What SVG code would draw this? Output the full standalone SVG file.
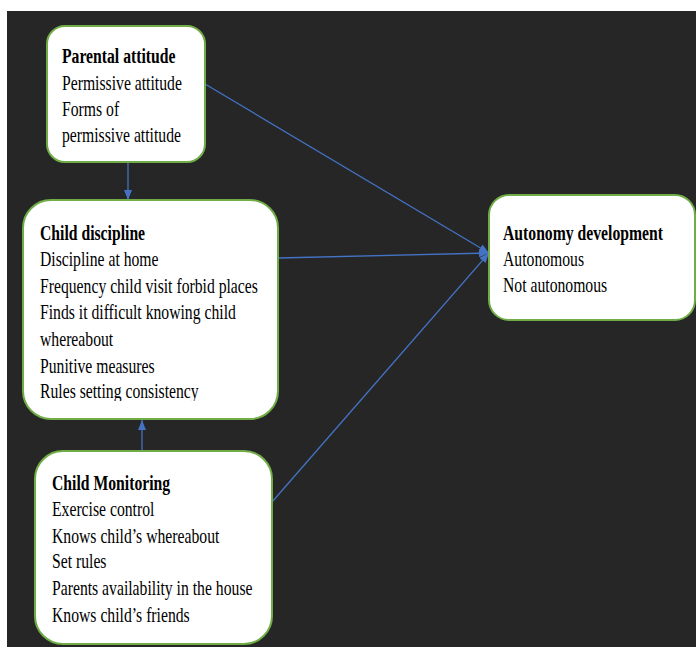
<svg xmlns="http://www.w3.org/2000/svg" width="696" height="647" viewBox="0 0 696 647">
<style>
.box{fill:#fff;stroke:#70AD47;stroke-width:2}
.t{font-family:"Liberation Serif","Times New Roman",serif;font-size:20px;fill:#000}
.b{font-weight:bold}
.c{fill:none;stroke:#4472C4;stroke-width:1.3}
</style>
<defs>
<marker id="ah" markerUnits="userSpaceOnUse" markerWidth="10" markerHeight="8" refX="10" refY="4" orient="auto">
<path d="M0,0 L10,4 L0,8 z" fill="#4472C4"/>
</marker>
<clipPath id="cdclip"><rect x="0" y="200" width="696" height="201"/></clipPath>
</defs>
<rect x="0" y="0" width="696" height="647" fill="#fff"/>
<rect x="7" y="11" width="689" height="636" fill="#262626"/>

<g id="connectors">
<line class="c" x1="128" y1="162" x2="128" y2="200" marker-end="url(#ah)"/>
<line class="c" x1="142" y1="451" x2="142" y2="420" marker-end="url(#ah)"/>
<line class="c" x1="205" y1="84" x2="489" y2="253" marker-end="url(#ah)"/>
<line class="c" x1="278" y1="258" x2="489" y2="253" marker-end="url(#ah)"/>
<line class="c" x1="272" y1="502" x2="489" y2="253" marker-end="url(#ah)"/>
</g>

<g id="parental-attitude">
<rect class="box" x="47" y="26" width="158" height="136" rx="18"/>
<g transform="translate(62 0) scale(0.785 1)">
<text class="t b" x="0" y="63">Parental attitude</text>
<text class="t" x="0" y="90">Permissive attitude</text>
<text class="t" x="0" y="116">Forms of</text>
<text class="t" x="0" y="142">permissive attitude</text>
</g>
</g>

<g id="child-discipline">
<rect class="box" x="23" y="200" width="255" height="219" rx="28"/>
<g clip-path="url(#cdclip)">
<g transform="translate(40 0) scale(0.785 1)">
<text class="t b" x="0" y="240">Child discipline</text>
<text class="t" x="0" y="266">Discipline at home</text>
<text class="t" x="0" y="293">Frequency child visit forbid places</text>
<text class="t" x="0" y="319">Finds it difficult knowing child</text>
<text class="t" x="0" y="346">whereabout</text>
<text class="t" x="0" y="373">Punitive measures</text>
<text class="t" x="0" y="398">Rules setting consistency</text>
</g>
</g>
</g>

<g id="child-monitoring">
<rect class="box" x="35" y="451" width="237" height="193" rx="28"/>
<g transform="translate(52 0) scale(0.785 1)">
<text class="t b" x="0" y="490">Child Monitoring</text>
<text class="t" x="0" y="516">Exercise control</text>
<text class="t" x="0" y="543">Knows child’s whereabout</text>
<text class="t" x="0" y="568">Set rules</text>
<text class="t" x="0" y="595">Parents availability in the house</text>
<text class="t" x="0" y="622">Knows child’s friends</text>
</g>
</g>

<g id="autonomy-development">
<rect class="box" x="489" y="195" width="206" height="125" rx="20"/>
<g transform="translate(503 0) scale(0.785 1)">
<text class="t b" x="0" y="240">Autonomy development</text>
<text class="t" x="0" y="266">Autonomous</text>
<text class="t" x="0" y="292">Not autonomous</text>
</g>
</g>
</svg>
